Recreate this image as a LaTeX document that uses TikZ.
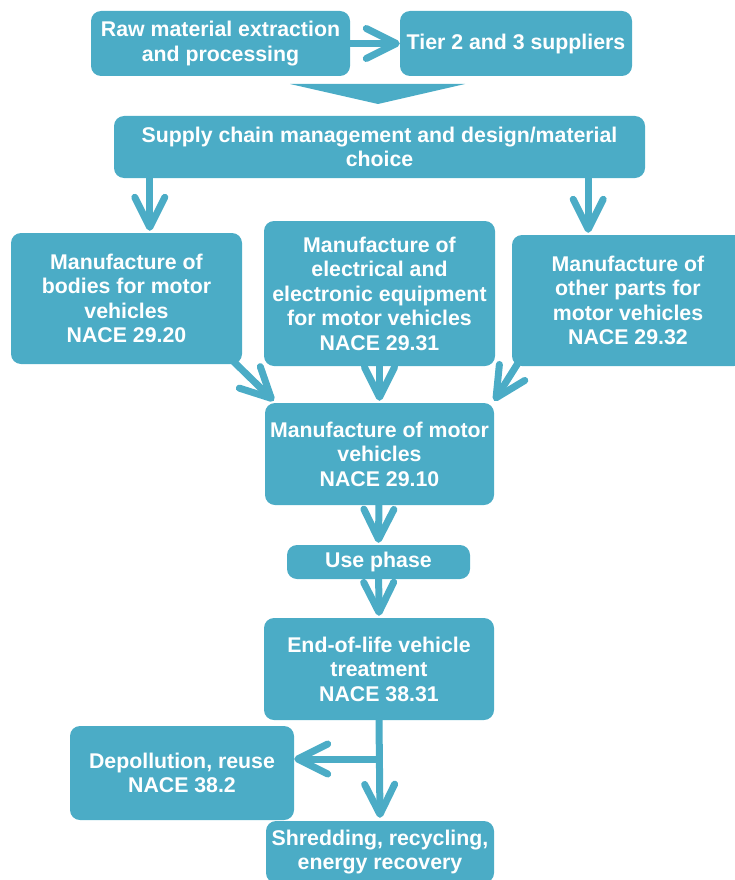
\documentclass[tikz,border=0pt]{standalone}
\usepackage{fontspec}
\setmainfont{Liberation Sans}
\usetikzlibrary{arrows.meta}
\definecolor{aqua}{HTML}{4BACC6}
\tikzset{
  stage/.style={rectangle, rounded corners=10pt, fill=aqua, text=white, align=center,
    inner sep=0pt, font=\fontsize{21.3}{24.5}\selectfont\bfseries},
  flow/.style={draw=aqua, line width=7pt, line cap=round,
    -{Straight Barb[length=30pt,width=30pt,round]}}
}
\begin{document}
\begin{tikzpicture}[x=1pt,y=-1pt]
\useasboundingbox (0,0) rectangle (734,880);

\node[stage, minimum width=259pt, minimum height=65pt] (raw) at (220.5,43.5) {Raw material extraction\\and processing};
\node[stage, minimum width=232pt, minimum height=65pt] (tier) at (516,43.5) {Tier 2 and 3 suppliers};
\fill[aqua] (290,84) -- (465,84) -- (378,104) -- cycle;
\node[stage, minimum width=531pt, minimum height=62pt] (supply) at (379.5,147) {Supply chain management and design/material\\choice};

\node[stage, minimum width=231pt, minimum height=131pt] (bodies) at (126.5,298.5) {Manufacture of\\bodies for motor\\vehicles\\NACE 29.20};
\node[stage, minimum width=231pt, minimum height=145pt] (elec) at (379.5,293.5) {Manufacture of\\electrical and\\electronic equipment\\for motor vehicles\\NACE 29.31};
\node[stage, minimum width=232pt, minimum height=131pt] (other) at (628,300.5) {Manufacture of\\other parts for\\motor vehicles\\NACE 29.32};

\node[stage, minimum width=229pt, minimum height=102pt] (motor) at (379.5,454) {Manufacture of motor\\vehicles\\NACE 29.10};
\node[stage, minimum width=183pt, minimum height=34pt] (use) at (378.5,562) {Use phase};
\node[stage, minimum width=230pt, minimum height=102pt] (eol) at (379,669) {End-of-life vehicle\\treatment\\NACE 38.31};
\node[stage, minimum width=224pt, minimum height=94pt] (depol) at (182,773) {Depollution, reuse\\NACE 38.2};
\node[stage, minimum width=228pt, minimum height=62pt] (shred) at (380,852) {Shredding, recycling,\\energy recovery};

\draw[flow] (raw) -- (tier);
\draw[flow] ([xshift=36pt]supply.south west) -- ([xshift=36pt,yshift=2pt]supply.south west |- bodies.north);
\draw[flow] ([xshift=-57pt]supply.south east) -- ([xshift=-57pt,yshift=2pt]supply.south east |- other.north);
\draw[flow] ([xshift=-10pt,yshift=4pt]bodies.south east) -- ([xshift=9pt,yshift=2pt]motor.north west);
\draw[flow] (elec.south) -- ([yshift=2pt]motor.north);
\draw[flow] ([xshift=8pt,yshift=6pt]other.south west) -- ([yshift=2pt]motor.north east);
\draw[flow] (motor) -- ([yshift=2pt]use.north);
\draw[flow] (use) -- ([yshift=2pt]eol.north);
\draw[flow] (eol.south) -- ([yshift=3pt]shred.north);
\draw[flow] ([yshift=14pt]depol.east -| eol.south) -- (depol.east |- 0,759);
\end{tikzpicture}
\end{document}
